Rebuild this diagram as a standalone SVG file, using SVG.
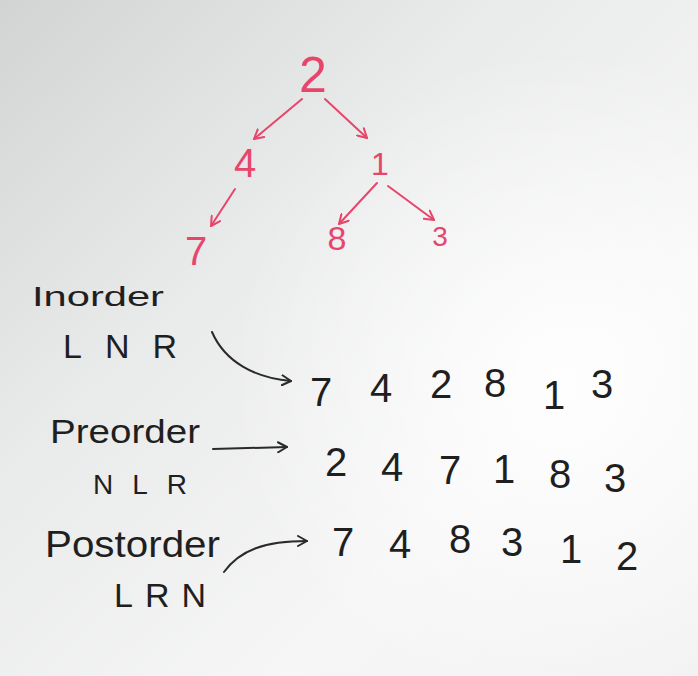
<svg xmlns="http://www.w3.org/2000/svg" width="698" height="676" viewBox="0 0 698 676">
<defs>
<linearGradient id="bg" x1="0" y1="0" x2="1" y2="1">
<stop offset="0" stop-color="#d2d3d3"/>
<stop offset="0.35" stop-color="#e9eaea"/>
<stop offset="0.7" stop-color="#f6f6f6"/>
<stop offset="1" stop-color="#f2f2f2"/>
</linearGradient>
<radialGradient id="glow" cx="560" cy="380" r="330" gradientUnits="userSpaceOnUse">
<stop offset="0" stop-color="#ffffff" stop-opacity="0.9"/>
<stop offset="1" stop-color="#ffffff" stop-opacity="0"/>
</radialGradient>
<marker id="ar" viewBox="0 0 12 12" refX="10" refY="6" markerWidth="12" markerHeight="12" markerUnits="userSpaceOnUse" orient="auto">
<path d="M1,1 L10,6 L1,11" fill="none" stroke="#e8456b" stroke-width="2" stroke-linecap="round" stroke-linejoin="round"/>
</marker>
<marker id="ak" viewBox="0 0 12 12" refX="10" refY="6" markerWidth="12" markerHeight="12" markerUnits="userSpaceOnUse" orient="auto">
<path d="M1,1 L10,6 L1,11" fill="none" stroke="#2a2a2a" stroke-width="2" stroke-linecap="round" stroke-linejoin="round"/>
</marker>
</defs>
<style>
.red{fill:#e8456b;font-family:"Liberation Sans",Arial,sans-serif;text-anchor:middle}
.blk{fill:#1f1f1f;font-family:"Liberation Sans",Arial,sans-serif}
.num{fill:#1f1f1f;font-family:"Liberation Sans",Arial,sans-serif;font-size:40px;text-anchor:middle}
.re{stroke:#e8456b;stroke-width:2;fill:none;stroke-linecap:round;marker-end:url(#ar)}
.bk{stroke:#2a2a2a;stroke-width:2;fill:none;stroke-linecap:round;marker-end:url(#ak)}
</style>
<rect width="698" height="676" fill="url(#bg)"/>
<rect width="698" height="676" fill="url(#glow)"/>

<g id="tree">
<g id="n2"><text class="red" x="313" y="92" font-size="50">2</text></g>
<g id="n4"><text class="red" x="245" y="177" font-size="40">4</text></g>
<g id="n1"><text class="red" x="380" y="175" font-size="32">1</text></g>
<g id="n7"><text class="red" x="196" y="265" font-size="40">7</text></g>
<g id="n8"><text class="red" x="337" y="250" font-size="34">8</text></g>
<g id="n3"><text class="red" x="440" y="246" font-size="28">3</text></g>
</g>

<g id="connectors">
<path class="re" d="M302,99 L254,139"/>
<path class="re" d="M325,99 L367,138"/>
<path class="re" d="M235,189 L211,226"/>
<path class="re" d="M377,183 L339,224"/>
<path class="re" d="M388,186 L434,220"/>
<path class="bk" d="M212,332 C225,362 255,378 291,381"/>
<path class="bk" d="M213,449 L287,447"/>
<path class="bk" d="M224,572 C240,550 265,541 307,541"/>
</g>

<g id="labels">
<g id="inorder">
<text class="blk" x="32" y="306" font-size="28" textLength="132" lengthAdjust="spacingAndGlyphs">Inorder</text>
<text class="blk" x="63" y="358" font-size="34" textLength="114" lengthAdjust="spacing">LNR</text>
</g>
<g id="preorder">
<text class="blk" x="50" y="443" font-size="34" textLength="150" lengthAdjust="spacingAndGlyphs">Preorder</text>
<text class="blk" x="93" y="494" font-size="28" textLength="94" lengthAdjust="spacing">NLR</text>
</g>
<g id="postorder">
<text class="blk" x="45" y="557" font-size="36" textLength="175" lengthAdjust="spacingAndGlyphs">Postorder</text>
<text class="blk" x="114" y="607" font-size="34" textLength="92" lengthAdjust="spacing">LRN</text>
</g>
</g>

<g id="inorder-seq">
<text class="num" x="321" y="406">7</text>
<text class="num" x="381" y="402">4</text>
<text class="num" x="441" y="398">2</text>
<text class="num" x="495" y="397">8</text>
<text class="num" x="554" y="409">1</text>
<text class="num" x="602" y="398">3</text>
</g>
<g id="preorder-seq">
<text class="num" x="336" y="476">2</text>
<text class="num" x="392" y="481">4</text>
<text class="num" x="450" y="484">7</text>
<text class="num" x="504" y="483">1</text>
<text class="num" x="560" y="488">8</text>
<text class="num" x="615" y="492">3</text>
</g>
<g id="postorder-seq">
<text class="num" x="343" y="556">7</text>
<text class="num" x="400" y="558">4</text>
<text class="num" x="460" y="553">8</text>
<text class="num" x="512" y="556">3</text>
<text class="num" x="571" y="563">1</text>
<text class="num" x="627" y="570" font-size="46">2</text>
</g>
</svg>
